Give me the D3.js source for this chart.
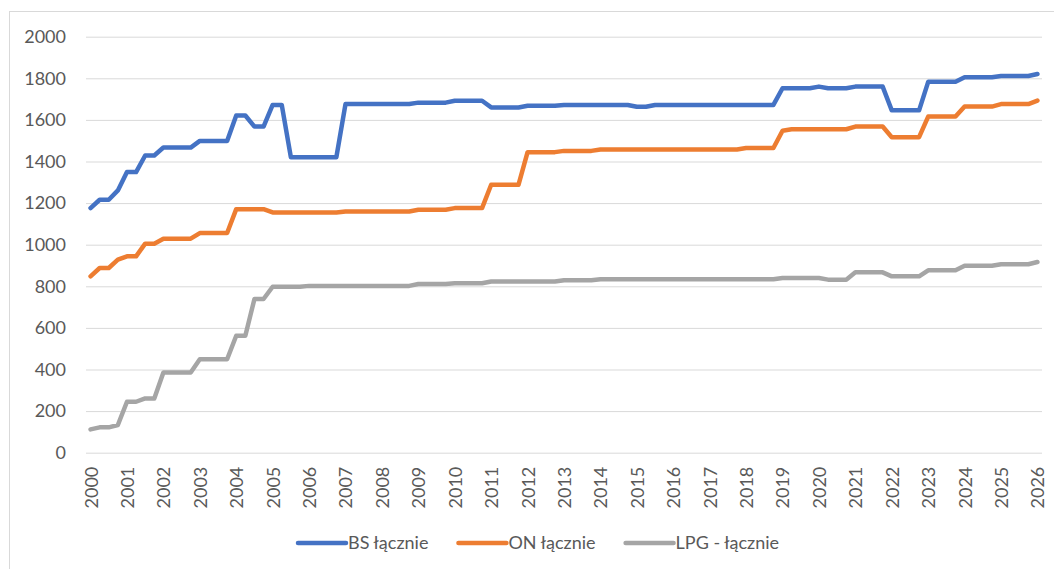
<!DOCTYPE html>
<html>
<head>
<meta charset="utf-8">
<script src="https://cdn.jsdelivr.net/npm/d3@7"></script>
<style>
  body { margin: 0; background: #fff; }
  text { font-family: Lato, "Noto Sans", sans-serif; }
</style>
</head>
<body>
<div id="chart"></div>
<script>
// quarterly data, 2000 Q1 .. 2026 Q1
const years = [2000, 2001, 2002, 2003, 2004, 2005, 2006, 2007, 2008, 2009, 2010, 2011, 2012,
    2013, 2014, 2015, 2016, 2017, 2018, 2019, 2020, 2021, 2022, 2023, 2024, 2025, 2026];
const quarters = ["Q1", "Q2", "Q3", "Q4"];

const bs_values = [
    1176, 1216, 1216, 1261,
    1349, 1349, 1429, 1429,
    1467, 1467, 1467, 1467,
    1499, 1499, 1499, 1499,
    1621, 1621, 1568, 1568,
    1672, 1672, 1421, 1421,
    1421, 1421, 1421, 1421,
    1676, 1676, 1676, 1676,
    1676, 1676, 1676, 1676,
    1683, 1683, 1683, 1683,
    1692, 1692, 1692, 1692,
    1660, 1660, 1660, 1660,
    1668, 1668, 1668, 1668,
    1672, 1672, 1672, 1672,
    1672, 1672, 1672, 1672,
    1663, 1663, 1672, 1672,
    1672, 1672, 1672, 1672,
    1672, 1672, 1672, 1672,
    1672, 1672, 1672, 1672,
    1752, 1752, 1752, 1752,
    1760, 1752, 1752, 1752,
    1760, 1760, 1760, 1760,
    1646, 1646, 1646, 1646,
    1783, 1783, 1783, 1783,
    1805, 1805, 1805, 1805,
    1811, 1811, 1811, 1811,
    1821
];

const on_values = [
    848, 888, 888, 928,
    944, 944, 1005, 1005,
    1029, 1029, 1029, 1029,
    1056, 1056, 1056, 1056,
    1171, 1171, 1171, 1171,
    1155, 1155, 1155, 1155,
    1155, 1155, 1155, 1155,
    1160, 1160, 1160, 1160,
    1160, 1160, 1160, 1160,
    1168, 1168, 1168, 1168,
    1176, 1176, 1176, 1176,
    1288, 1288, 1288, 1288,
    1445, 1445, 1445, 1445,
    1451, 1451, 1451, 1451,
    1458, 1458, 1458, 1458,
    1458, 1458, 1458, 1458,
    1458, 1458, 1458, 1458,
    1458, 1458, 1458, 1458,
    1465, 1465, 1465, 1465,
    1548, 1555, 1555, 1555,
    1555, 1555, 1555, 1555,
    1568, 1568, 1568, 1568,
    1517, 1517, 1517, 1517,
    1616, 1616, 1616, 1616,
    1664, 1664, 1664, 1664,
    1676, 1676, 1676, 1676,
    1693
];

const lpg_values = [
    112, 122, 122, 133,
    245, 245, 261, 261,
    386, 386, 386, 386,
    449, 449, 449, 449,
    562, 562, 739, 739,
    798, 798, 798, 798,
    802, 802, 802, 802,
    802, 802, 802, 802,
    802, 802, 802, 802,
    811, 811, 811, 811,
    815, 815, 815, 815,
    823, 823, 823, 823,
    823, 823, 823, 823,
    829, 829, 829, 829,
    834, 834, 834, 834,
    834, 834, 834, 834,
    834, 834, 834, 834,
    834, 834, 834, 834,
    834, 834, 834, 834,
    840, 840, 840, 840,
    840, 832, 832, 832,
    867, 867, 867, 867,
    848, 848, 848, 848,
    877, 877, 877, 877,
    899, 899, 899, 899,
    906, 906, 906, 906,
    917
];

const series_names = ["BS łącznie", "ON łącznie", "LPG - łącznie"];
const series_colors = ["#4472C4", "#ED7D31", "#A5A5A5"];
const y_ticks = [0, 200, 400, 600, 800, 1000, 1200, 1400, 1600, 1800, 2000];

// category keys like "2000 Q1"
const categories = [];
years.forEach(y => quarters.forEach(q => {
    if (categories.length < bs_values.length) categories.push(y + " " + q);
}));

const width = 1054,
    height = 569;

const svg = d3.select("#chart")
    .append("svg")
    .attr("width", width)
    .attr("height", height);

svg.append("rect")
    .attr("width", width)
    .attr("height", height)
    .attr("fill", "#ffffff");

// chart border (runs off the right and bottom edges)
svg.append("rect")
    .attr("x", 9.5)
    .attr("y", 11.5)
    .attr("width", 1100)
    .attr("height", 600)
    .attr("fill", "none")
    .attr("stroke", "#d9d9d9")
    .attr("stroke-width", 1);

const x = d3.scalePoint()
    .domain(categories)
    .range([86, 1042])
    .padding(0.5);

const y = d3.scaleLinear()
    .domain([0, 2000])
    .range([452.7, 36.7]);

// y axis with gridlines
const yAxis = svg.append("g")
    .attr("transform", "translate(86,0)")
    .call(d3.axisLeft(y)
        .tickValues(y_ticks)
        .tickFormat(d3.format("d"))
        .tickSize(-(1042 - 86))
        .tickPadding(20));

yAxis.select(".domain").remove();
yAxis.selectAll(".tick line")
    .attr("stroke", "#d9d9d9")
    .attr("stroke-width", 1);
yAxis.selectAll(".tick text")
    .attr("fill", "#595959")
    .style("font-size", "18px")
    .style("font-family", "Lato, 'Noto Sans', sans-serif");

// x axis: one label per year (Q1)
const xAxis = svg.append("g")
    .attr("transform", "translate(0,452.7)")
    .call(d3.axisBottom(x)
        .tickValues(categories.filter(c => c.endsWith("Q1")))
        .tickFormat(c => c.slice(0, 4))
        .tickSize(0));

xAxis.select(".domain").remove();
xAxis.selectAll(".tick text")
    .attr("fill", "#595959")
    .style("font-size", "18px")
    .style("font-family", "Lato, 'Noto Sans', sans-serif")
    .attr("text-anchor", "end")
    .attr("transform", "translate(0,14) rotate(-90)")
    .attr("x", 0)
    .attr("y", 0)
    .attr("dy", "0.36em");

const all_values = [bs_values, on_values, lpg_values];

const line = d3.line()
    .x((d, i) => x(categories[i]))
    .y(d => y(d));

svg.selectAll(".series")
    .data(all_values)
    .join("path")
    .attr("class", "series")
    .attr("d", d => line(d))
    .attr("fill", "none")
    .attr("stroke", (d, i) => series_colors[i])
    .attr("stroke-width", 4.5)
    .attr("stroke-linejoin", "round")
    .attr("stroke-linecap", "round");

// legend
const legend = svg.append("g")
    .attr("transform", "translate(298,543)");

let offset = 0;
series_names.forEach((name, i) => {
    const item = legend.append("g")
        .attr("transform", `translate(${offset},0)`);

    item.append("line")
        .attr("x1", 0)
        .attr("x2", 48)
        .attr("y1", 0)
        .attr("y2", 0)
        .attr("stroke", series_colors[i])
        .attr("stroke-width", 4.5)
        .attr("stroke-linecap", "round");

    const label = item.append("text")
        .attr("x", 50)
        .attr("y", 0)
        .attr("dy", "0.35em")
        .attr("fill", "#595959")
        .style("font-size", "18px")
        .text(name);

    offset += 50 + label.node().getComputedTextLength() + 30;
});
</script>
</body>
</html>
